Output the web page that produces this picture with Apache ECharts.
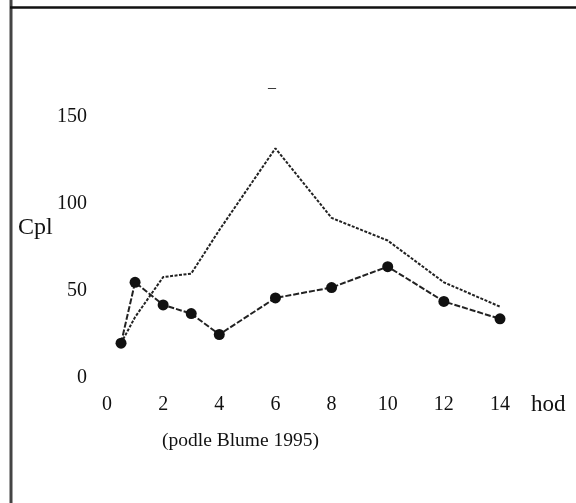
<!DOCTYPE html>
<html>
<head>
<meta charset="utf-8">
<script src="https://cdn.jsdelivr.net/npm/echarts@6/dist/echarts.min.js"></script>
<style>
html, body { margin: 0; padding: 0; background: #fff; }
#chart { width: 576px; height: 503px; }
</style>
</head>
<body>
<div id="chart"></div>
<script>
// data
var hoursA = [0.5, 1, 2, 3, 4, 6, 8, 10, 12, 14];
var cplA = [20, 35, 58, 60, 85, 132, 92, 79, 55, 41];
var hoursB = [0.5, 1, 2, 3, 4, 6, 8, 10, 12, 14];
var cplB = [20, 55, 42, 37, 25, 46, 52, 64, 44, 34];
var xTicks = [0, 2, 4, 6, 8, 10, 12, 14];
var yTicks = [0, 50, 100, 150];

function pairs(xs, ys) {
    return xs.map(function(x, i) { return [x, ys[i]]; });
}

var font = '"Liberation Serif", "DejaVu Serif", serif';
var chart = echarts.init(document.getElementById('chart'));

var option = {
    backgroundColor: '#fff',
    animation: false,
    grid: { left: 107, right: 76, top: 117, bottom: 125 },
    xAxis: {
        type: 'value',
        min: xTicks[0],
        max: xTicks[xTicks.length - 1],
        interval: 2,
        axisLine: { show: false },
        axisTick: { show: false },
        splitLine: { show: false },
        axisLabel: { color: '#111', fontFamily: font, fontSize: 20, margin: 17 }
    },
    yAxis: {
        type: 'value',
        min: yTicks[0],
        max: yTicks[yTicks.length - 1],
        interval: 50,
        axisLine: { show: false },
        axisTick: { show: false },
        splitLine: { show: false },
        axisLabel: { color: '#111', fontFamily: font, fontSize: 20, margin: 20 }
    },
    series: [
        {
            type: 'line',
            data: pairs(hoursA, cplA),
            showSymbol: false,
            symbol: 'none',
            lineStyle: { color: '#222', width: 2, type: [3, 1.5] }
        },
        {
            type: 'line',
            data: pairs(hoursB, cplB),
            symbol: 'circle',
            symbolSize: 11,
            itemStyle: { color: '#111' },
            lineStyle: { color: '#222', width: 2, type: [6, 2] }
        }
    ],
    graphic: [
        { type: 'line', shape: { x1: 11, y1: 0, x2: 11, y2: 503 }, style: { stroke: '#444', lineWidth: 3 } },
        { type: 'line', shape: { x1: 10, y1: 7.5, x2: 576, y2: 7.5 }, style: { stroke: '#111', lineWidth: 2.5 } },
        { type: 'text', left: 18, top: 216, style: { text: 'Cpl', font: '24px ' + font, fill: '#111' } },
        { type: 'text', left: 531, top: 393, style: { text: 'hod', font: '23px ' + font, fill: '#111' } },
        { type: 'text', left: 162, top: 431, style: { text: '(podle Blume 1995)', font: '19.5px ' + font, fill: '#111' } },
        { type: 'text', left: 268, top: 80, style: { text: '–', font: '16px ' + font, fill: '#111' } }
    ]
};

chart.setOption(option);
</script>
</body>
</html>
